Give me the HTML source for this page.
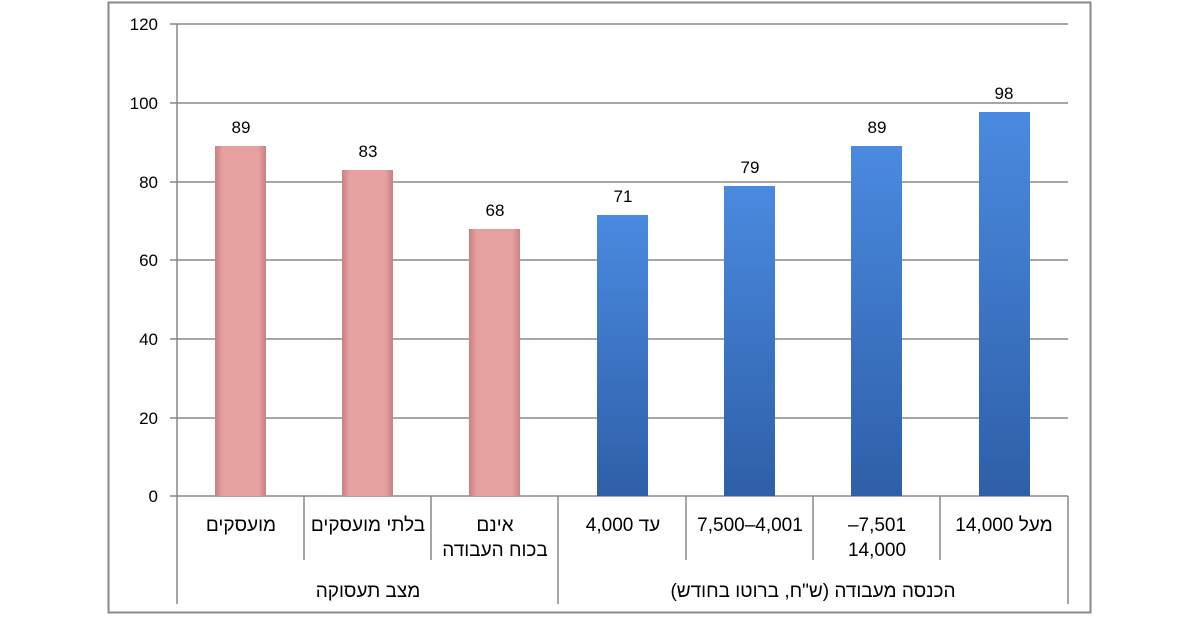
<!DOCTYPE html>
<html><head><meta charset="utf-8"><style>
body{margin:0;background:#fff}
svg text{font-family:"Liberation Sans","DejaVu Sans",sans-serif;fill:#000}
</style></head><body>
<svg width="1200" height="616" viewBox="0 0 1200 616" xmlns="http://www.w3.org/2000/svg">
<defs>
<linearGradient id="p" x1="0" x2="1" y1="0" y2="0">
<stop offset="0" stop-color="#c98080"/><stop offset="0.15" stop-color="#e6a0a0"/><stop offset="0.85" stop-color="#e6a0a0"/><stop offset="1" stop-color="#c98080"/></linearGradient>
<linearGradient id="b" x1="0" x2="0" y1="0" y2="1">
<stop offset="0" stop-color="#4a8ae0"/><stop offset="1" stop-color="#2e5fa8"/></linearGradient>
</defs>
<rect x="108.5" y="2.5" width="982" height="610" fill="none" stroke="#888" stroke-width="2"/>
<g stroke="#888" stroke-width="1.5">
<line x1="170" y1="24" x2="1068" y2="24"/>
<line x1="170" y1="103" x2="1068" y2="103"/>
<line x1="170" y1="182" x2="1068" y2="182"/>
<line x1="170" y1="260" x2="1068" y2="260"/>
<line x1="170" y1="339" x2="1068" y2="339"/>
<line x1="170" y1="418" x2="1068" y2="418"/>
<line x1="170" y1="496" x2="1068" y2="496"/>
<line x1="177" y1="24" x2="177" y2="604"/>
<line x1="558" y1="496" x2="558" y2="604"/>
<line x1="1068" y1="496" x2="1068" y2="604"/>
<line x1="304" y1="496" x2="304" y2="560"/>
<line x1="431" y1="496" x2="431" y2="560"/>
<line x1="686" y1="496" x2="686" y2="560"/>
<line x1="813" y1="496" x2="813" y2="560"/>
<line x1="940" y1="496" x2="940" y2="560"/>
</g>
<g font-size="17" text-anchor="end">
<text x="158" y="30">120</text><text x="158" y="109">100</text><text x="158" y="188">80</text>
<text x="158" y="266">60</text><text x="158" y="345">40</text><text x="158" y="424">20</text><text x="158" y="502">0</text>
</g>
<g>
<rect x="215" y="146" width="51" height="350" fill="url(#p)"/>
<rect x="342" y="170" width="51" height="326" fill="url(#p)"/>
<rect x="469" y="229" width="51" height="267" fill="url(#p)"/>
<rect x="597" y="215" width="51" height="281" fill="url(#b)"/>
<rect x="724" y="186" width="51" height="310" fill="url(#b)"/>
<rect x="851" y="146" width="51" height="350" fill="url(#b)"/>
<rect x="979" y="112" width="51" height="384" fill="url(#b)"/>
</g>
<g font-size="17" text-anchor="middle">
<text x="241" y="133">89</text><text x="368" y="157">83</text><text x="495" y="216">68</text>
<text x="623" y="202">71</text><text x="750" y="173">79</text><text x="877" y="133">89</text><text x="1004" y="99">98</text>
</g>
<g font-size="19" text-anchor="middle" font-family="Liberation Sans,DejaVu Sans,sans-serif">
<text x="241" y="531">מועסקים</text>
<text x="368" y="531">בלתי מועסקים</text>
<text x="495" y="531">אינם</text>
<text x="495" y="556">בכוח העבודה</text>
<text x="623" y="531">עד 4,000</text>
<text x="750" y="531">7,500–4,001</text>
<text x="877" y="531">–7,501</text>
<text x="877" y="556">14,000</text>
<text x="1004" y="531">מעל 14,000</text>
<text x="368" y="597">מצב תעסוקה</text>
<text x="813" y="597">הכנסה מעבודה (ש"ח, ברוטו בחודש)</text>
</g>
</svg>
</body></html>
